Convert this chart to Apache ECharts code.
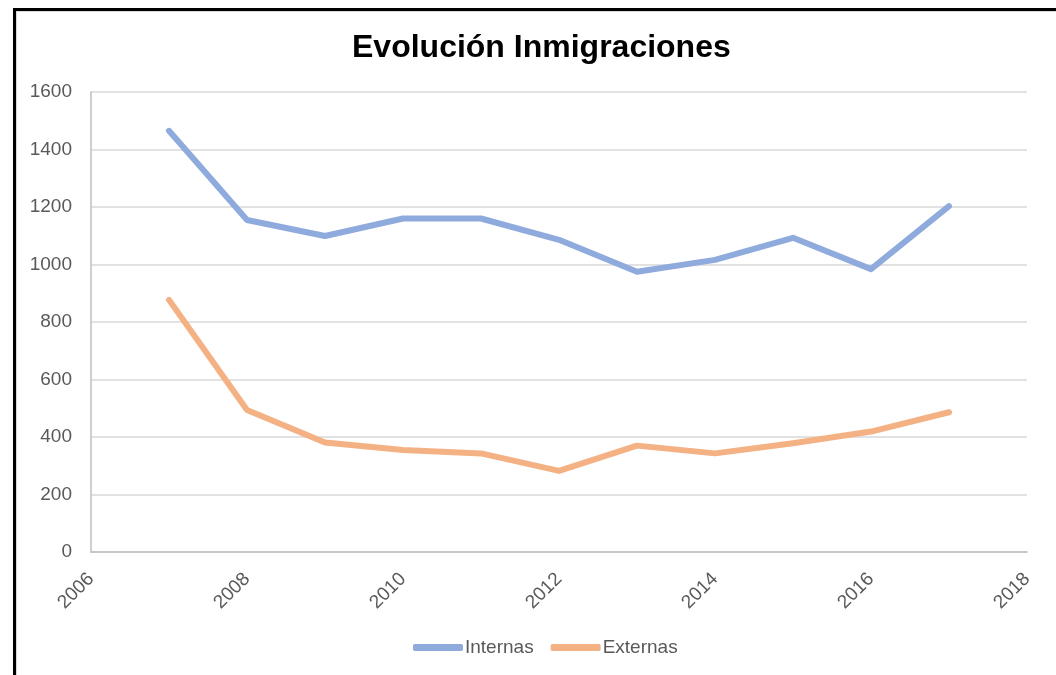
<!DOCTYPE html>
<html>
<head>
<meta charset="utf-8">
<script src="https://cdn.jsdelivr.net/npm/echarts@6/dist/echarts.min.js"></script>
<style>
  html, body { margin: 0; padding: 0; background: #fff; overflow: hidden; }
  #frame { position: absolute; left: 13px; top: 8px; width: 1100px; height: 700px;
    border-top: 3px solid #000; border-left: 3px solid #000; }
  #inner { width: 100%; height: 100%; border-top: 1px solid #d9d9d9; border-left: 1px solid #d9d9d9; }
  #chart { position: absolute; left: 0; top: 0; width: 1056px; height: 675px; }
</style>
</head>
<body>
<div id="frame"><div id="inner"></div></div>
<div id="chart"></div>
<script>
const years = [2007, 2008, 2009, 2010, 2011, 2012, 2013, 2014, 2015, 2016, 2017];
const internas = [1465, 1155, 1099, 1160, 1160, 1086, 975, 1016, 1093, 984, 1203];
const externas = [877, 494, 381, 355, 343, 282, 370, 343, 378, 419, 486];

const pairs = (vals) => years.map((y, i) => [y, vals[i]]);

const labelFont = { fontFamily: 'Liberation Sans', fontSize: 19, color: '#595959' };
const plain = (v) => String(v);

const chart = echarts.init(document.getElementById('chart'), null, { renderer: 'canvas' });
chart.setOption({
  backgroundColor: 'transparent',
  animation: false,
  title: {
    text: 'Evolución Inmigraciones',
    left: 352,
    top: 32,
    padding: 0,
    textStyle: { fontFamily: 'Liberation Sans', fontSize: 32, fontWeight: 'bold', color: '#000' }
  },
  legend: {
    data: ['Internas', 'Externas'],
    left: 413,
    top: 638,
    padding: 0,
    itemWidth: 50,
    itemHeight: 7,
    itemGap: 17,
    icon: 'roundRect',
    textStyle: Object.assign({ padding: [0, 0, 0, -3] }, labelFont)
  },
  grid: { left: 91, right: 29, top: 92, bottom: 123 },
  xAxis: {
    type: 'value',
    min: 2006,
    max: 2018,
    interval: 2,
    axisLine: { show: true, lineStyle: { color: '#bfbfbf', width: 1.5 } },
    axisTick: { show: false },
    splitLine: { show: false },
    axisLabel: Object.assign({ rotate: 45, margin: 24, formatter: plain }, labelFont)
  },
  yAxis: {
    type: 'value',
    min: 0,
    max: 1600,
    interval: 200,
    axisLine: { show: true, lineStyle: { color: '#bfbfbf', width: 1.5 } },
    axisTick: { show: false },
    splitLine: { lineStyle: { color: '#d9d9d9', width: 1.5 } },
    axisLabel: Object.assign({ margin: 19, formatter: plain }, labelFont)
  },
  series: [
    {
      name: 'Internas',
      type: 'line',
      data: pairs(internas),
      symbol: 'none',
      color: '#8faadc',
      lineStyle: { width: 6, cap: 'round', join: 'round' }
    },
    {
      name: 'Externas',
      type: 'line',
      data: pairs(externas),
      symbol: 'none',
      color: '#f4b183',
      lineStyle: { width: 6, cap: 'round', join: 'round' }
    }
  ]
});
</script>
</body>
</html>
